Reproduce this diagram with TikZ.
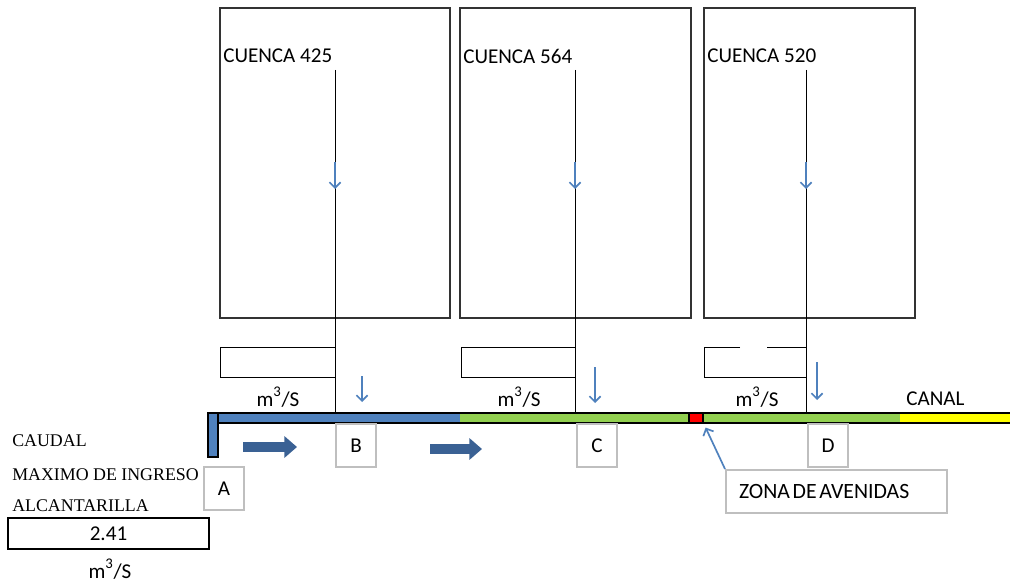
\documentclass[tikz,border=0pt]{standalone}
\usepackage{fontspec}
\setmainfont{Carlito}
\newfontfamily\serifa{Liberation Serif}
\usetikzlibrary{arrows.meta,positioning}

\definecolor{azulcanal}{HTML}{4F81BD}
\definecolor{verdecanal}{HTML}{92D050}
\definecolor{amarillocanal}{HTML}{FFFF00}
\definecolor{azuloscuro}{HTML}{3A6194}
\definecolor{grisbox}{HTML}{BFBFBF}

\newcommand{\mcubs}{m\raisebox{0.25ex}{\textsuperscript{3}}/S}

\begin{document}
\begin{tikzpicture}[x=0.025cm, y=-0.025cm,
    texto/.style={font=\fontsize{15}{17}\selectfont, inner sep=0pt},
    serif/.style={font=\serifa\fontsize{12.7}{14}\selectfont, inner sep=0pt},
    letra/.style={draw=grisbox, line width=1.4pt, minimum width=1cm, minimum height=1.075cm, font=\fontsize{15}{17}\selectfont},
    flecha/.style={azulcanal, line width=1.2pt, -{Straight Barb[length=4pt,width=8pt]}},
    gruesa/.style={azuloscuro, line width=7pt, -{Triangle[length=9pt,width=15pt]}}]
    \useasboundingbox (0,0) rectangle (1010,583);

    % Cuencas con su caudal de entrada
    \foreach \xa/\xb/\xl/\n in {220/450/335/425, 460/691/575/564, 704/915/806/520} {
        \draw[line width=0.8pt, black!80] (\xa,8) rectangle (\xb,318);
        \node[texto, anchor=west] (cu\n) at (\xa+3,56) {CUENCA \n};
        \coordinate (sal\n) at (\xl,70);
        \coordinate (ent\n) at (\xl,413);
        \draw[line width=0.7pt] (sal\n) -- (ent\n);
        \draw[flecha] (\xl,162) -- (\xl,189);
    }

    % Casillas del caudal
    \draw[line width=0.7pt] (220,347) rectangle (335,377);
    \draw[line width=0.7pt] (461,347) rectangle (575,377);
    \draw[line width=0.7pt] (740,347) -- (704,347) -- (704,377) -- (806,377);
    \draw[line width=0.7pt] (767,347) -- (806,347);
    \foreach \xm in {278,519,757}
        \node[texto] at (\xm,397) {\mcubs};

    % Flechas de aporte al canal
    \draw[flecha] (362,376) -- (362,402);
    \draw[flecha] (595,367) -- (595,403);
    \draw[flecha] (817,362) -- (817,400);

    % Canal por tramos
    \fill[azulcanal] (208,413) rectangle (460,423);
    \fill[verdecanal] (460,413) rectangle (900,423);
    \fill[amarillocanal] (900,413) rectangle (1010,423);
    \draw[line width=1.1pt] (208,413) -- (1010,413) (208,423) -- (1010,423);
    \filldraw[fill=azulcanal, line width=1.1pt] (208,413) rectangle (218,457);
    \node[draw, fill=red, line width=1.1pt, inner sep=0pt, minimum width=0.35cm, minimum height=0.25cm] (roja) at (696,418) {};
    \node[texto, anchor=west] (canal) at (906,399) {CANAL};

    % Sentido del flujo
    \draw[gruesa] (243,447) -- (297,447);
    \draw[gruesa] (430,449) -- (482,449);

    % Puntos de control
    \node[letra, anchor=north west] (A) at (203,466) {A};
    \node[letra, anchor=north west] (B) at (335,423) {B};
    \node[letra, anchor=north west] (C) at (576,423) {C};
    \node[letra, anchor=north west] (D) at (807,423) {D};

    \node[letra, anchor=north west, minimum width=5.525cm, text width=4.875cm, inner xsep=0.325cm, align=left,
        font=\fontsize{15.5}{17}\selectfont] (zona) at (725,469) {\spaceskip=0.12em\relax ZONA DE AVENIDAS};
    \draw[flecha, shorten >=3pt] (zona.north west) -- (roja.south east);

    % Caudal maximo de la alcantarilla
    \node[serif, anchor=west] (caudal) at (12,441) {CAUDAL};
    \node[serif, anchor=west] (maximo) at (12,475) {MAXIMO DE INGRESO};
    \node[serif, anchor=west] (alcant) at (12,506) {ALCANTARILLA};
    \node[texto, draw, line width=0.8pt, minimum width=5.025cm, minimum height=0.775cm] (valor) at (108.5,533.5) {2.41};
    \node[texto] (unidad) at (110,569) {\mcubs};
\end{tikzpicture}
\end{document}
